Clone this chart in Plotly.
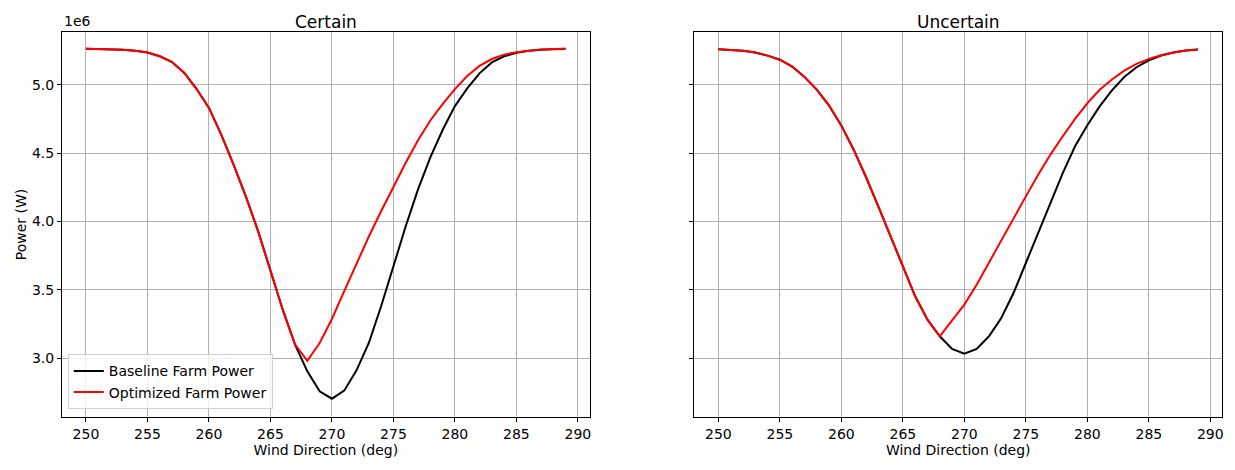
import numpy as np
import plotly.graph_objects as go
from plotly.subplots import make_subplots

# Data (power in units of 1e6 W)
wind_dirs = list(range(250, 290))

certain_baseline = [5.265, 5.264, 5.262, 5.258, 5.250, 5.238, 5.210, 5.168, 5.088, 4.970,
                    4.832, 4.636, 4.416, 4.184, 3.928, 3.647, 3.354, 3.098, 2.902, 2.756,
                    2.702, 2.761, 2.910, 3.110, 3.379, 3.672, 3.965, 4.235, 4.470, 4.670,
                    4.845, 4.975, 5.085, 5.165, 5.210, 5.236, 5.250, 5.258, 5.262, 5.265]
certain_optimized = [5.265, 5.264, 5.262, 5.258, 5.250, 5.238, 5.210, 5.168, 5.088, 4.970,
                     4.832, 4.636, 4.416, 4.184, 3.928, 3.647, 3.354, 3.098, 2.980, 3.110,
                     3.286, 3.490, 3.695, 3.890, 4.075, 4.255, 4.430, 4.595, 4.740, 4.860,
                     4.970, 5.065, 5.140, 5.190, 5.222, 5.240, 5.252, 5.259, 5.263, 5.265]
uncertain_baseline = [5.262, 5.258, 5.250, 5.238, 5.215, 5.185, 5.135, 5.059, 4.966, 4.849,
                      4.702, 4.526, 4.326, 4.111, 3.891, 3.672, 3.452, 3.281, 3.159, 3.066,
                      3.032, 3.066, 3.159, 3.293, 3.476, 3.696, 3.916, 4.148, 4.355, 4.551,
                      4.705, 4.843, 4.960, 5.058, 5.130, 5.181, 5.216, 5.238, 5.252, 5.260]
uncertain_optimized = [5.262, 5.258, 5.250, 5.238, 5.215, 5.185, 5.135, 5.059, 4.966, 4.849,
                       4.702, 4.526, 4.326, 4.111, 3.891, 3.672, 3.452, 3.281, 3.159, 3.276,
                       3.391, 3.537, 3.701, 3.867, 4.026, 4.184, 4.343, 4.490, 4.624, 4.751,
                       4.866, 4.965, 5.040, 5.105, 5.155, 5.191, 5.218, 5.238, 5.252, 5.260]

x_ticks = [250, 255, 260, 265, 270, 275, 280, 285, 290]
y_ticks = [3.0, 3.5, 4.0, 4.5, 5.0]
titles = ["Certain", "Uncertain"]

font = "DejaVu Sans"
grid_color = "#b0b0b0"

fig = make_subplots(rows=1, cols=2, shared_yaxes=True, horizontal_spacing=0.0904,
                    subplot_titles=titles)

panels = [(certain_baseline, certain_optimized), (uncertain_baseline, uncertain_optimized)]
for i, (base, opt) in enumerate(panels):
    fig.add_trace(go.Scatter(x=wind_dirs, y=np.array(base) * 1e6, mode="lines",
                             line=dict(color="black", width=2),
                             name="Baseline Farm Power", showlegend=(i == 0)),
                  row=1, col=i + 1)
    fig.add_trace(go.Scatter(x=wind_dirs, y=np.array(opt) * 1e6, mode="lines",
                             line=dict(color="red", width=2),
                             name="Optimized Farm Power", showlegend=(i == 0)),
                  row=1, col=i + 1)

axis_style = dict(showline=True, linecolor="black", linewidth=1, mirror=True,
                  ticks="outside", ticklen=4, tickcolor="black",
                  showgrid=True, gridcolor=grid_color, gridwidth=1, zeroline=False,
                  tickfont=dict(family=font, size=14, color="black"))

for c in (1, 2):
    fig.update_xaxes(range=[248.05, 290.95], tickvals=x_ticks,
                     title=dict(text="Wind Direction (deg)",
                                font=dict(family=font, size=14, color="black"), standoff=2),
                     row=1, col=c, **axis_style)
    fig.update_yaxes(range=[2.568e6, 5.388e6], tickvals=[v * 1e6 for v in y_ticks],
                     ticktext=[f"{v:.1f}" for v in y_ticks], row=1, col=c, **axis_style)

fig.update_yaxes(title=dict(text="Power (W)", font=dict(family=font, size=14, color="black"),
                            standoff=2), row=1, col=1)
fig.update_yaxes(showticklabels=False, row=1, col=2)

fig.update_annotations(font=dict(family=font, size=17, color="black"), yshift=-2)
fig.add_annotation(text="1e6", xref="paper", yref="paper", x=0, y=1, xanchor="left",
                   yanchor="bottom", showarrow=False, yshift=1,
                   font=dict(family=font, size=14, color="black"))

fig.update_layout(
    width=1227, height=462,
    margin=dict(l=54, r=11, t=24, b=53),
    plot_bgcolor="white", paper_bgcolor="white",
    font=dict(family=font, size=14, color="black"),
    legend=dict(x=0.005, y=0.02, xanchor="left", yanchor="bottom",
                bgcolor="rgba(255,255,255,0.8)", bordercolor="#d0d0d0", borderwidth=1,
                font=dict(family=font, size=14, color="black")),
)

fig.write_html("out.html")
